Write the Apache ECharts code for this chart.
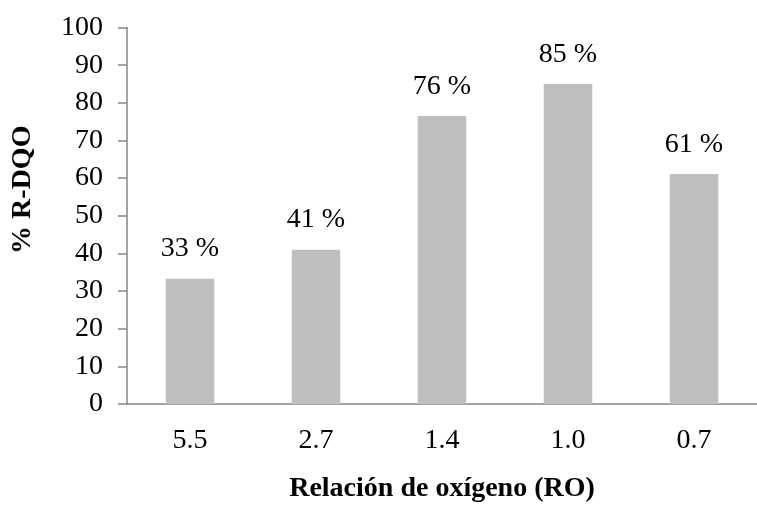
<!DOCTYPE html>
<html>
<head>
<meta charset="utf-8">
<script src="https://cdn.jsdelivr.net/npm/echarts@6/dist/echarts.min.js"></script>
<style>
html,body{margin:0;padding:0;background:#fff;}
#chart{width:757px;height:508px;}
</style>
</head>
<body>
<div id="chart"></div>
<script>
var categories = ['5.5', '2.7', '1.4', '1.0', '0.7'];
var values = [33.3, 41.0, 76.5, 85.0, 61.1];
var valueLabels = ['33 %', '41 %', '76 %', '85 %', '61 %'];
var xAxisName = 'Relación de oxígeno (RO)';
var yAxisName = '% R-DQO';

var chart = echarts.init(document.getElementById('chart'));
var font = 'Liberation Serif';
chart.setOption({
  backgroundColor: '#ffffff',
  animation: false,
  grid: { left: 127, top: 27.5, width: 640, height: 383 },
  xAxis: {
    type: 'category',
    data: categories,
    axisLine: { lineStyle: { color: '#868686', width: 1.5 } },
    axisTick: { show: false },
    axisLabel: { color: '#000', fontFamily: font, fontSize: 28, margin: 23 },
    name: xAxisName,
    nameLocation: 'middle',
    nameGap: 71,
    nameTextStyle: { color: '#000', fontFamily: font, fontSize: 28, fontWeight: 'bold' }
  },
  yAxis: {
    type: 'value',
    min: 0, max: 100, interval: 10,
    axisLine: { show: true, lineStyle: { color: '#868686', width: 1.5 } },
    axisTick: { show: true, inside: false, length: 9, lineStyle: { color: '#868686', width: 1.5 } },
    splitLine: { show: false },
    axisLabel: { color: '#000', fontFamily: font, fontSize: 28, margin: 24 },
    name: yAxisName,
    nameLocation: 'middle',
    nameGap: 90,
    nameTextStyle: { color: '#000', fontFamily: font, fontSize: 28, fontWeight: 'bold', padding: [0, 0, 0, 52] }
  },
  series: [{
    type: 'bar',
    data: values,
    barWidth: 48.5,
    itemStyle: { color: '#bfbfbf' },
    label: {
      show: true,
      position: 'top',
      distance: 15.5,
      color: '#000',
      fontFamily: font,
      fontSize: 28,
      formatter: function (p) { return valueLabels[p.dataIndex]; }
    }
  }]
});
</script>
</body>
</html>
